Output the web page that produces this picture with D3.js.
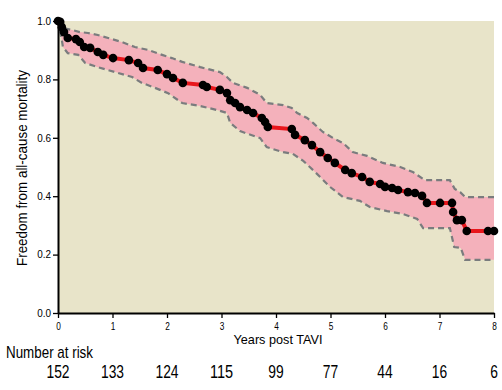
<!DOCTYPE html>
<html><head><meta charset="utf-8">
<script src="https://cdn.jsdelivr.net/npm/d3@7"></script>
<style>
body{margin:0;background:#fff;}
svg{display:block;font-family:"Liberation Sans",Arial,sans-serif;}
</style></head><body>
<svg id="chart" width="502" height="390"></svg>
<script>
// Kaplan-Meier estimate (years, survival)
const kmTime = [0,0.04,0.07,0.11,0.18,0.33,0.40,0.48,0.59,0.73,0.83,1.01,1.30,1.47,1.56,1.83,2.00,2.11,2.29,2.66,2.73,2.97,3.10,3.16,3.25,3.34,3.47,3.58,3.74,3.80,3.85,4.29,4.35,4.53,4.66,4.81,4.95,5.08,5.27,5.39,5.58,5.72,5.91,6.00,6.13,6.24,6.42,6.55,6.68,6.77,7.01,7.23,7.25,7.32,7.41,7.50,7.89,8.0];
const kmSurv = [1.0,0.997,0.979,0.962,0.942,0.938,0.928,0.911,0.908,0.894,0.884,0.873,0.866,0.856,0.839,0.832,0.818,0.805,0.788,0.781,0.774,0.764,0.753,0.729,0.719,0.705,0.695,0.685,0.668,0.654,0.637,0.630,0.610,0.592,0.575,0.551,0.531,0.514,0.490,0.479,0.466,0.449,0.442,0.432,0.428,0.421,0.414,0.411,0.401,0.377,0.377,0.377,0.346,0.318,0.318,0.281,0.281,0.281];
// Confidence band
const upperTime = [0,0.09,0.26,0.40,0.55,0.73,0.92,1.17,1.41,1.65,1.91,2.09,2.28,2.61,2.97,3.10,3.21,3.47,3.71,3.83,4.13,4.29,4.39,4.57,4.68,4.86,5.05,5.23,5.41,5.67,5.96,6.28,6.51,6.73,7.19,7.28,7.38,7.47,8.0];
const upperSurv = [1.0,0.976,0.969,0.962,0.959,0.952,0.942,0.928,0.911,0.901,0.884,0.873,0.860,0.842,0.825,0.808,0.788,0.771,0.747,0.719,0.712,0.702,0.685,0.668,0.651,0.620,0.599,0.582,0.551,0.538,0.514,0.500,0.483,0.455,0.455,0.425,0.414,0.397,0.397];
const lowerTime = [0,0.07,0.09,0.18,0.37,0.50,0.73,1.05,1.36,1.54,1.78,2.02,2.28,2.61,2.92,3.10,3.16,3.34,3.71,3.83,4.13,4.31,4.50,4.62,4.81,4.99,5.23,5.54,5.72,6.04,6.33,6.59,6.70,7.19,7.27,7.39,7.47,8.0];
const lowerSurv = [1.0,0.935,0.911,0.890,0.884,0.856,0.842,0.825,0.808,0.788,0.771,0.753,0.719,0.709,0.695,0.685,0.651,0.623,0.599,0.568,0.551,0.545,0.521,0.500,0.466,0.432,0.397,0.384,0.363,0.349,0.339,0.322,0.291,0.291,0.226,0.223,0.182,0.182];
// Axis ticks and number at risk
const xTicks = [0,1,2,3,4,5,6,7,8];
const yTicks = [0.0,0.2,0.4,0.6,0.8,1.0];
const atRisk = [152,133,124,115,99,77,44,16,6];

const svg = d3.select("#chart");
const x = d3.scaleLinear().domain([0,8]).range([58,494]);
const y = d3.scaleLinear().domain([0,1]).range([313,21]);

// condensed look: squeeze text horizontally to a given width per character
function squeeze(sel, perChar){
  sel.each(function(){
    const t = d3.select(this);
    const s = t.text();
    t.attr("textLength", s.length*perChar).attr("lengthAdjust","spacingAndGlyphs");
  });
}

// plot background
svg.append("rect").attr("x",x(0)).attr("y",y(1)).attr("width",x(8)-x(0)).attr("height",y(0)-y(1)).attr("fill","#e8e4c9");

// band polygon
const up = upperTime.map((t,i)=>[t,upperSurv[i]]);
const lo = lowerTime.map((t,i)=>[t,lowerSurv[i]]);
const poly = up.concat(lo.slice().reverse());
const line = d3.line().x(d=>x(d[0])).y(d=>y(d[1]));
svg.append("path").attr("d",line(poly)+"Z").attr("fill","#f4b1bb");
[up,lo].forEach(b=>{
  svg.append("path").attr("d",line(b)).attr("fill","none").attr("stroke","#7a7c7e").attr("stroke-width",2.2).attr("stroke-dasharray","6,4");
});

// KM line and dots
const km = kmTime.map((t,i)=>[t,kmSurv[i]]);
svg.append("path").attr("d",line(km)).attr("fill","none").attr("stroke","#e8161c").attr("stroke-width",4);
svg.append("g").selectAll("circle").data(km).join("circle")
  .attr("cx",d=>x(d[0])).attr("cy",d=>y(d[1])).attr("r",4.3).attr("fill","#000");

// axes
const xAxis = d3.axisBottom(x).tickValues(xTicks).tickFormat(d3.format("d")).tickSize(5).tickSizeOuter(0);
const gx = svg.append("g").attr("transform",`translate(0,${y(0)})`).call(xAxis).attr("font-family",null);
gx.select(".domain").attr("stroke-width",2);
gx.selectAll(".tick line").attr("stroke-width",1.3);
gx.selectAll("text").attr("font-size",10).attr("fill","#000").attr("y",17).attr("dy",0).call(squeeze,4.6);
const yAxis = d3.axisLeft(y).tickValues(yTicks).tickFormat(d3.format(".1f")).tickSize(5).tickSizeOuter(0);
const gy = svg.append("g").attr("transform",`translate(${x(0)},0)`).call(yAxis).attr("font-family",null);
gy.select(".domain").attr("stroke-width",2);
gy.selectAll(".tick line").attr("stroke-width",1.3);
gy.selectAll("text").attr("font-size",10).attr("fill","#000").attr("x",-7).call(squeeze,4.6);

const yl = svg.append("text").attr("transform","translate(27,168) rotate(-90)").attr("text-anchor","middle")
  .attr("font-size",14).text("Freedom from all-cause mortality");
yl.attr("textLength",196).attr("lengthAdjust","spacingAndGlyphs");
svg.append("text").attr("x",278).attr("y",344).attr("text-anchor","middle").attr("font-size",13.5)
  .text("Years post TAVI").attr("textLength",89).attr("lengthAdjust","spacingAndGlyphs");
svg.append("text").attr("x",6).attr("y",358).attr("font-size",17)
  .text("Number at risk").attr("textLength",87).attr("lengthAdjust","spacingAndGlyphs");
svg.append("g").selectAll("text").data(atRisk).join("text")
  .attr("x",(d,i)=>x(xTicks[i])).attr("y",378).attr("text-anchor","middle").attr("font-size",18)
  .text(d=>d).call(squeeze,7.7);
</script></body></html>
